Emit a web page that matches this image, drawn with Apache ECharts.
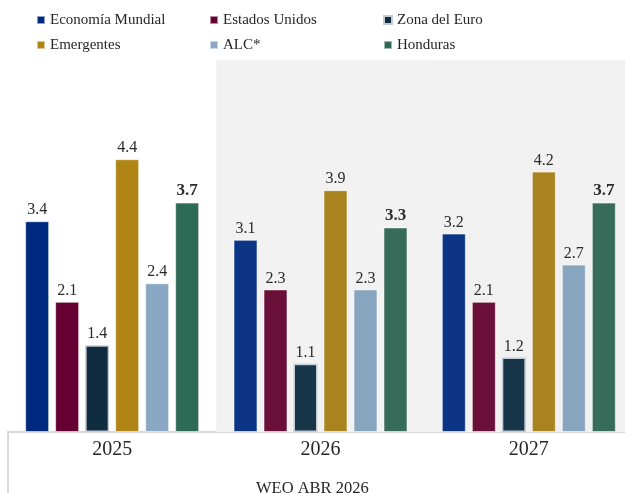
<!DOCTYPE html>
<html>
<head>
<meta charset="utf-8">
<script src="https://cdn.jsdelivr.net/npm/echarts@6/dist/echarts.min.js"></script>
<style>
  html, body { margin: 0; padding: 0; background: #fff; overflow: hidden; }
  #chart { width: 641px; height: 493px; }
</style>
</head>
<body>
<div id="chart"></div>
<script>
// Growth projections by region (%), WEO April 2026
const years = ['2025', '2026', '2027'];
const economiaMundial = [3.4, 3.1, 3.2];
const estadosUnidos   = [2.1, 2.3, 2.1];
const zonaEuro        = [1.4, 1.1, 1.2];
const emergentes      = [4.4, 3.9, 4.2];
const alc             = [2.4, 2.3, 2.7];
const honduras        = [3.7, 3.3, 3.7];
const seriesNames = ['Economía Mundial', 'Estados Unidos', 'Zona del Euro', 'Emergentes', 'ALC*', 'Honduras'];
const footer = 'WEO ABR 2026';

// Colours: first year slightly more saturated than the projection years
const palette = {
  'Economía Mundial': ['#002a80', '#0d3585'],
  'Estados Unidos':   ['#660033', '#6a1038'],
  'Zona del Euro':    ['#0f2b3e', '#173548'],
  'Emergentes':       ['#b08515', '#a8831f'],
  'ALC*':             ['#8aa8c4', '#87a5bf'],
  'Honduras':         ['#2e6b57', '#376b5a']
};
const values = [economiaMundial, estadosUnidos, zonaEuro, emergentes, alc, honduras];

const FONT = '"Liberation Serif", "DejaVu Serif", serif';

const series = seriesNames.map((name, si) => {
  const isHN = name === 'Honduras';
  const isEuro = name === 'Zona del Euro';
  return {
    name: name,
    type: 'bar',
    barWidth: 24,
    barGap: '25%',
    itemStyle: {
      color: palette[name][0],
      borderColor: isEuro ? '#c3cbd6' : 'rgba(255,255,255,0.55)',
      borderWidth: isEuro ? 1.5 : 1
    },
    label: {
      show: true,
      position: 'top',
      distance: 3,
      fontFamily: FONT,
      fontSize: isHN ? 17 : 16,
      fontWeight: isHN ? 'bold' : 'normal',
      color: '#2b2b2b',
      formatter: p => p.value.toFixed(1)
    },
    data: values[si].map((v, i) => ({
      value: v,
      itemStyle: { color: palette[name][i === 0 ? 0 : 1] }
    }))
  };
});

const legendBase = {
  orient: 'vertical',
  top: 12,
  padding: 0,
  icon: 'rect',
  itemWidth: 8,
  itemHeight: 8,
  itemGap: 9,
  textStyle: { fontFamily: FONT, fontSize: 15, color: '#262626', lineHeight: 16 },
  selectedMode: false
};

const chart = echarts.init(document.getElementById('chart'), null, { renderer: 'canvas' });
chart.setOption({
  animation: false,
  backgroundColor: '#ffffff',
  title: {
    text: footer,
    left: 251,
    top: 475,
    textStyle: { fontFamily: FONT, fontSize: 16.5, fontWeight: 'normal', color: '#262626' }
  },
  legend: [
    Object.assign({}, legendBase, { left: 36, data: [seriesNames[0], seriesNames[3]] }),
    Object.assign({}, legendBase, { left: 209, data: [seriesNames[1], seriesNames[4]] }),
    Object.assign({}, legendBase, { left: 383, data: [seriesNames[2], seriesNames[5]] })
  ],
  grid: { left: 8, right: 8, top: 60, bottom: 61, containLabel: false },
  xAxis: {
    type: 'category',
    data: years,
    axisLine: { show: false },
    axisTick: { show: false },
    splitLine: { show: false },
    splitArea: { show: true, areaStyle: { color: ['rgba(255,255,255,0)', '#f2f2f2', '#f1f1f1'] } },
    axisLabel: { fontFamily: FONT, fontSize: 20, color: '#262626', margin: 8 }
  },
  yAxis: { type: 'value', min: 0, max: 6, show: false },
  graphic: [{
    type: 'rect',
    shape: { x: 8, y: 432, width: 700, height: 120 },
    style: { fill: 'none', stroke: '#d9d9d9', lineWidth: 2 },
    silent: true
  }],
  series: series
});
</script>
</body>
</html>
